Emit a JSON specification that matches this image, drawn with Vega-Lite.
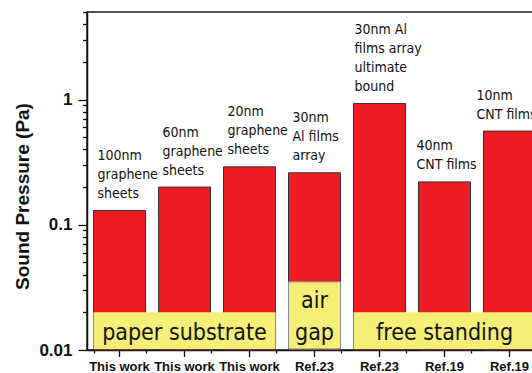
{
  "$schema": "https://vega.github.io/schema/vega-lite/v6.json",
  "width": 446,
  "height": 338,
  "autosize": "none",
  "padding": {"left": 87, "top": 12, "right": 0, "bottom": 23},
  "background": "white",
  "config": {"view": {"stroke": "#1a1a1a", "strokeWidth": 1.5}},
  "datasets": {
    "bars": [
      {"key": "1 This work", "value": 0.13, "note": "100nm\ngraphene\nsheets"},
      {"key": "2 This work", "value": 0.2, "note": "60nm\ngraphene\nsheets"},
      {"key": "3 This work", "value": 0.29, "note": "20nm\ngraphene\nsheets"},
      {"key": "4 Ref.23", "value": 0.26, "note": "30nm\nAl films\narray"},
      {"key": "5 Ref.23", "value": 0.93, "note": "30nm Al\nfilms array\nultimate\nbound"},
      {"key": "6 Ref.19", "value": 0.22, "note": "40nm\nCNT films"},
      {"key": "7 Ref.19", "value": 0.56, "note": "10nm\nCNT films"}
    ],
    "boxes": [
      {"label": "paper substrate", "start": "1 This work", "mid": "2 This work", "end": "3 This work", "top": 0.02, "bottom": 0.0102},
      {"label": "air\ngap", "start": "4 Ref.23", "mid": "4 Ref.23", "end": "4 Ref.23", "top": 0.035, "bottom": 0.0102},
      {"label": "free standing", "start": "5 Ref.23", "mid": "6 Ref.19", "end": "7 Ref.19", "top": 0.02, "bottom": 0.0102}
    ]
  },
  "resolve": {"axis": {"x": "independent"}},
  "layer": [
    {
      "data": {"name": "bars"},
      "mark": {"type": "bar", "fill": "#ED1C24", "stroke": "#333333", "strokeWidth": 1},
      "encoding": {
        "x": {
          "field": "key", "type": "nominal", "sort": "ascending",
          "scale": {"range": [0, 455], "paddingInner": 0.2, "paddingOuter": 0.1},
          "axis": {
            "orient": "bottom", "title": null, "labelAngle": 0,
            "labelExpr": "substring(datum.value, 2)",
            "labelFont": "Liberation Sans", "labelFontWeight": "bold", "labelFontSize": 13,
            "labelColor": "#111111", "labelPadding": 4,
            "tickSize": 6.5, "tickColor": "#111111", "tickWidth": 1.3,
            "domainColor": "#111111", "domainWidth": 1.5
          }
        },
        "y": {
          "field": "value", "type": "quantitative",
          "scale": {"type": "log", "domain": [0.01, 5], "nice": false},
          "axis": {
            "title": "Sound Pressure (Pa)",
            "values": [0.01, 0.02, 0.03, 0.04, 0.05, 0.06, 0.07, 0.08, 0.09, 0.1, 0.2, 0.3, 0.4, 0.5, 0.6, 0.7, 0.8, 0.9, 1, 2, 3, 4, 5],
            "labelExpr": "datum.value == 1 ? '1' : datum.value == 0.1 ? '0.1' : datum.value == 0.01 ? '0.01' : ''",
            "tickSize": {"condition": {"test": "datum.value == 1 || datum.value == 0.1 || datum.value == 0.01", "value": 9}, "value": 4.5},
            "labelFont": "Liberation Sans", "labelFontWeight": "bold", "labelFontSize": 17,
            "labelColor": "#111111", "labelPadding": 6, "labelBaseline": "middle",
            "tickColor": "#111111", "tickWidth": 1.3,
            "domainColor": "#111111", "domainWidth": 1.5, "grid": false,
            "titleFont": "Liberation Sans", "titleFontWeight": "bold", "titleFontSize": 19,
            "titleColor": "#111111", "titleX": -59, "titleY": 184, "titleBaseline": "alphabetic", "titleAngle": 270
          }
        },
        "y2": {"datum": 0.01}
      }
    },
    {
      "data": {"name": "boxes"},
      "mark": {"type": "rect", "fill": "#F5EF78"},
      "encoding": {
        "x": {
          "field": "start", "type": "nominal", "sort": "ascending", "bandPosition": 0,
          "axis": {
            "orient": "bottom", "title": null, "labels": false, "domain": false,
            "tickBand": "extent", "tickSize": 3, "tickColor": "#111111", "tickWidth": 1.3
          }
        },
        "x2": {"field": "end", "bandPosition": 1},
        "y": {"field": "top", "type": "quantitative"},
        "y2": {"field": "bottom"},
        "stroke": {"condition": {"test": "datum.label == 'air\\ngap'", "value": "#8a8a8a"}, "value": null}
      }
    },
    {
      "data": {"name": "boxes"},
      "transform": [{"filter": "datum.label != 'air\\ngap'"}],
      "mark": {"type": "text", "font": "DejaVu Sans Condensed, DejaVu Sans", "fontSize": 23, "baseline": "alphabetic", "align": "center", "color": "#111111"},
      "encoding": {
        "x": {"field": "mid", "type": "nominal", "sort": "ascending", "axis": null},
        "y": {"datum": 0.012, "type": "quantitative"},
        "text": {"field": "label"}
      }
    },
    {
      "data": {"name": "boxes"},
      "transform": [{"filter": "datum.label == 'air\\ngap'"}],
      "mark": {"type": "text", "font": "DejaVu Sans Condensed, DejaVu Sans", "fontSize": 23, "lineHeight": 32, "baseline": "alphabetic", "align": "center", "lineBreak": "\n", "dy": -32, "color": "#111111"},
      "encoding": {
        "x": {"field": "mid", "type": "nominal", "sort": "ascending", "axis": null},
        "y": {"datum": 0.012, "type": "quantitative"},
        "text": {"field": "label"}
      }
    },
    {
      "data": {"name": "bars"},
      "transform": [{"filter": "indexof(['1','2','3','4'], substring(datum.key, 0, 1)) >= 0"}],
      "mark": {"type": "text", "font": "DejaVu Sans Condensed, DejaVu Sans", "fontSize": 14, "lineHeight": 19, "baseline": "alphabetic", "align": "left", "lineBreak": "\n", "dx": 4, "dy": -50.5, "color": "#111111"},
      "encoding": {
        "x": {"field": "key", "type": "nominal", "sort": "ascending", "bandPosition": 0, "axis": null},
        "y": {"field": "value", "type": "quantitative"},
        "text": {"field": "note"}
      }
    },
    {
      "data": {"name": "bars"},
      "transform": [{"filter": "substring(datum.key, 0, 1) == '5'"}],
      "mark": {"type": "text", "font": "DejaVu Sans Condensed, DejaVu Sans", "fontSize": 14, "lineHeight": 19, "baseline": "alphabetic", "align": "left", "lineBreak": "\n", "dx": 1, "dy": -69.5, "color": "#111111"},
      "encoding": {
        "x": {"field": "key", "type": "nominal", "sort": "ascending", "bandPosition": 0, "axis": null},
        "y": {"field": "value", "type": "quantitative"},
        "text": {"field": "note"}
      }
    },
    {
      "data": {"name": "bars"},
      "transform": [{"filter": "substring(datum.key, 0, 1) == '6'"}],
      "mark": {"type": "text", "font": "DejaVu Sans Condensed, DejaVu Sans", "fontSize": 14, "lineHeight": 19, "baseline": "alphabetic", "align": "left", "lineBreak": "\n", "dx": -2, "dy": -31.5, "color": "#111111"},
      "encoding": {
        "x": {"field": "key", "type": "nominal", "sort": "ascending", "bandPosition": 0, "axis": null},
        "y": {"field": "value", "type": "quantitative"},
        "text": {"field": "note"}
      }
    },
    {
      "data": {"name": "bars"},
      "transform": [{"filter": "substring(datum.key, 0, 1) == '7'"}],
      "mark": {"type": "text", "font": "DejaVu Sans Condensed, DejaVu Sans", "fontSize": 14, "lineHeight": 19, "baseline": "alphabetic", "align": "left", "lineBreak": "\n", "dx": -7, "dy": -31.5, "color": "#111111"},
      "encoding": {
        "x": {"field": "key", "type": "nominal", "sort": "ascending", "bandPosition": 0, "axis": null},
        "y": {"field": "value", "type": "quantitative"},
        "text": {"field": "note"}
      }
    }
  ]
}
